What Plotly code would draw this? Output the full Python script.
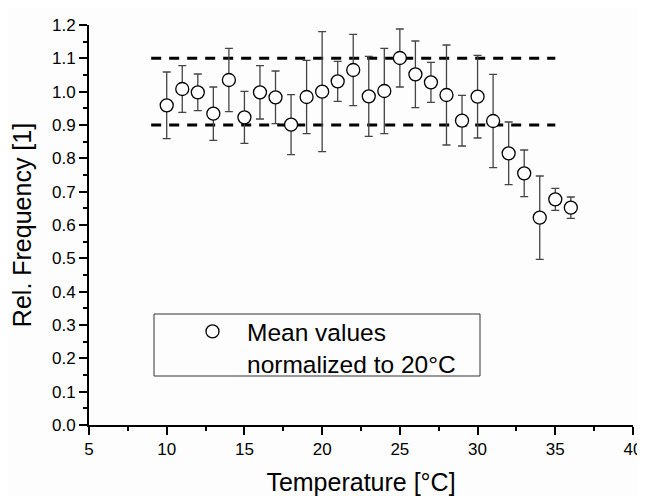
import plotly.graph_objects as go

temps = [10, 11, 12, 13, 14, 15, 16, 17, 18, 19, 20, 21, 22, 23, 24, 25, 26, 27, 28, 29, 30, 31, 32, 33, 34, 35, 36]
rel_freq = [0.959, 1.008, 0.998, 0.934, 1.035, 0.923, 0.998, 0.983, 0.901, 0.984, 1.0, 1.031, 1.065,
            0.986, 1.002, 1.101, 1.052, 1.028, 0.99, 0.913, 0.985, 0.912, 0.815, 0.755, 0.622, 0.677, 0.652]
err = [0.10, 0.07, 0.055, 0.08, 0.095, 0.078, 0.08, 0.079, 0.09, 0.11, 0.18, 0.06, 0.107,
       0.12, 0.128, 0.087, 0.10, 0.06, 0.15, 0.076, 0.124, 0.14, 0.094, 0.07, 0.125, 0.033, 0.032]
band_x = [9, 35]
band_upper = [1.1, 1.1]
band_lower = [0.9, 0.9]
x_ticks = [5, 10, 15, 20, 25, 30, 35, 40]
y_ticks = [0.0, 0.1, 0.2, 0.3, 0.4, 0.5, 0.6, 0.7, 0.8, 0.9, 1.0, 1.1, 1.2]

FONT = "Arial, Liberation Sans, sans-serif"

# page body has an 8px margin; the figure is placed at (8, 8)
W, H = 637, 488
ML, MT = 81, 17
PW, PH = 544, 400
MR = W - ML - PW
MB = H - MT - PH


def px_x(page_x):
    return (page_x - 89) / PW


def px_y(page_y):
    return (425 - page_y) / PH


fig = go.Figure()
for yy in (band_upper, band_lower):
    fig.add_trace(go.Scatter(x=band_x, y=yy, mode="lines", showlegend=False,
                             line=dict(color="black", width=3, dash="10px,8px"), hoverinfo="skip"))

fig.add_trace(go.Scatter(
    x=temps, y=rel_freq, mode="markers",
    name="Mean values<br>normalized to 20°C",
    marker=dict(symbol="circle", size=13, color="white", line=dict(color="black", width=1.3)),
    error_y=dict(type="data", array=err, visible=True, color="#444", thickness=1.3, width=4),
))

fig.add_shape(type="rect", xref="paper", yref="paper",
              x0=px_x(154), x1=px_x(480), y0=px_y(376), y1=px_y(314),
              line=dict(color="#333", width=1), fillcolor="rgba(0,0,0,0)")

axis_common = dict(showline=True, linecolor="black", linewidth=2, ticks="outside",
                   tickcolor="black", tickwidth=2, ticklen=8, showgrid=False, zeroline=False,
                   mirror=False, automargin=False,
                   tickfont=dict(family=FONT, size=17, color="black"))

fig.update_layout(
    width=W, height=H,
    margin=dict(l=ML, r=MR, t=MT, b=MB),
    paper_bgcolor="#fdfdfd", plot_bgcolor="#fdfdfd",
    font=dict(family=FONT, color="black"),
    xaxis=dict(range=[5, 40], tickvals=x_ticks, ticktext=[str(v) for v in x_ticks],
               title=dict(text="Temperature [°C]", font=dict(family=FONT, size=25), standoff=18),
               minor=dict(dtick=2.5, tick0=5, ticks="outside", ticklen=4, tickcolor="black", tickwidth=1.5),
               **axis_common),
    yaxis=dict(range=[0, 1.2], tickvals=y_ticks, ticktext=[f"{v:.1f}" for v in y_ticks],
               title=dict(text="Rel. Frequency [1]", font=dict(family=FONT, size=25), standoff=15),
               minor=dict(dtick=0.05, tick0=0, ticks="outside", ticklen=4, tickcolor="black", tickwidth=1.5),
               **axis_common),
    legend=dict(x=px_x(178), y=px_y(309), xanchor="left", yanchor="top",
                bgcolor="rgba(0,0,0,0)", borderwidth=0, valign="top", itemwidth=59,
                font=dict(family=FONT, size=24.5, color="black")),
    showlegend=True,
)

fig.write_html("out.html")
